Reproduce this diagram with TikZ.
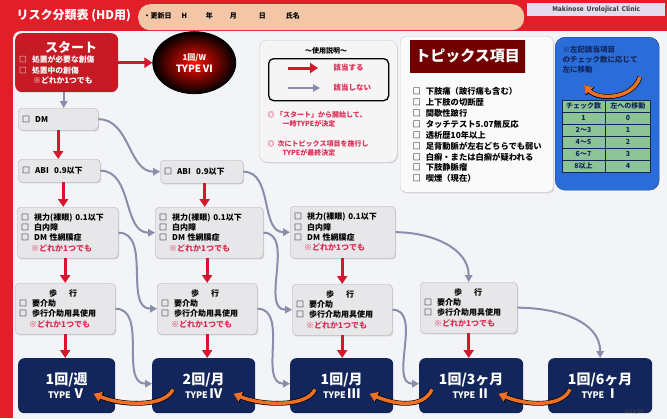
\documentclass[tikz,border=0pt]{standalone}
\usepackage{fontspec}
\setmainfont{Noto Sans CJK JP}
\usetikzlibrary{positioning,arrows.meta,shapes.geometric,shadows}
\definecolor{framered}{RGB}{226,30,40}
\definecolor{startred}{RGB}{198,26,36}
\definecolor{panel}{RGB}{243,244,248}
\definecolor{boxgray}{RGB}{231,231,234}
\definecolor{linegray}{RGB}{138,142,170}
\definecolor{arrowred}{RGB}{214,22,44}
\definecolor{notered}{RGB}{222,45,85}
\definecolor{typenavy}{RGB}{18,38,92}
\definecolor{peach}{RGB}{243,198,168}
\definecolor{lavender}{RGB}{228,220,238}
\definecolor{topicblue}{RGB}{42,108,216}
\definecolor{tablegreen}{RGB}{140,196,150}
\definecolor{swoosh}{RGB}{238,112,36}
\newcommand{\chkbox}{□\hspace{5pt}}
\newcommand{\anyone}{\hspace*{10pt}{\color{notered}※どれか1つでも}}
\newcommand{\typelabel}[2]{{\fontsize{14}{16}\selectfont #1}\\[1pt]{\fontsize{9}{12}\selectfont TYPE\,}{\fontsize{13}{12}\selectfont #2}}
\tikzset{
  flowbox/.style={draw=gray!55, fill=boxgray, rounded corners=4pt, anchor=north west,
    align=left, inner sep=4pt, font=\bfseries\fontsize{8}{10.3}\selectfont,
    drop shadow={shadow xshift=1pt,shadow yshift=-1.2pt,opacity=.3}},
  typebox/.style={fill=typenavy, rounded corners=6pt, anchor=north west, text=white,
    align=center, minimum height=55pt, font=\bfseries},
  redarrow/.style={arrowred, line width=3pt, -{Triangle[length=8pt,width=10pt]}},
  grayarrow/.style={linegray, line width=2pt, -{Triangle[length=7pt,width=7.5pt]}},
  swooshto/.style={swoosh, line width=3.5pt, -{Triangle[length=8pt,width=10pt]},
    preaction={draw=black, line width=4.8pt, -{Triangle[length=9pt,width=11.5pt]}}},
  tcell/.style={draw=typenavy, fill=tablegreen, minimum height=12pt, inner sep=0pt,
    text=typenavy, font=\bfseries\fontsize{7}{8}\selectfont},
  topicitem/.style={anchor=west, font=\bfseries\fontsize{8.3}{9}\selectfont}
}
\begin{document}
\begin{tikzpicture}[x=1pt,y=-1pt]
\useasboundingbox (0,0) rectangle (667,418);
% frame
\fill[framered] (0,0) rectangle (667,418);
\fill[panel, rounded corners=8pt] (13,31) rectangle (690,440);
\node[fill=peach, rounded corners=12pt, anchor=north west, minimum width=386pt, minimum height=26pt] (datebar) at (138,4) {};
\node[anchor=west, text=white, font=\bfseries\fontsize{12}{13}\selectfont] (title) at (13,16) {リスク分類表\ (HD用)};
\node[anchor=west, font=\bfseries\fontsize{7}{8}\selectfont] (datetext) at (140,16) {・更新日\hspace{10pt}H\hspace{19pt}年\hspace{17pt}月\hspace{22pt}日\hspace{20pt}氏名};
\node[fill=lavender, anchor=north west, minimum width=138pt, minimum height=13pt, inner sep=1pt, text=black!75, font=\bfseries\fontsize{6.5}{7}\selectfont] (clinic) at (527,3) {Makinose\ \ Urolojical\ \ Clinic};

% start
\node[fill=startred, rounded corners=7pt, anchor=north west, minimum width=103pt, minimum height=59pt,
  text=white, align=left, inner sep=4pt, text width=95pt, font=\bfseries\fontsize{7.8}{10.3}\selectfont] (start) at (15,33)
  {\hspace*{26pt}{\fontsize{13}{17}\selectfont スタート}\\ \chkbox 処置が必要な創傷\\ \chkbox 処置中の創傷\\ \hspace*{14pt}※どれか1つでも};
\node[ellipse, draw=black, line width=0.8pt, inner color=red!90!orange, outer color=black, minimum width=83pt, minimum height=62pt,
  text=white, align=center, font=\bfseries, right=34pt of start] (type6) {{\fontsize{8}{10}\selectfont 1回/W}\\{\fontsize{10}{12}\selectfont TYPE\,Ⅵ}};
\draw[redarrow] (start) -- (type6);

% usage
\node[draw=gray!40, fill=gray!8, rounded corners=8pt, anchor=north west, minimum width=138pt, minimum height=122pt,
  drop shadow={shadow xshift=1pt,shadow yshift=-1.2pt,opacity=.25}] (guide) at (259,40) {};
\node[font=\bfseries\fontsize{7}{8}\selectfont] (guidetitle) at (326,51) {～使用説明～};
\node[draw=black, line width=1.3pt, rounded corners=5pt, anchor=north west, minimum width=120pt, minimum height=42pt] (keybox) at (268,58) {};
\node[anchor=west, text=notered, font=\bfseries\fontsize{7.5}{8}\selectfont] (keyyes) at (330,68) {該当する};
\node[anchor=west, text=notered, font=\bfseries\fontsize{7.5}{8}\selectfont] (keyno) at (330,88) {該当しない};
\draw[redarrow] (keyyes.west) ++(-42,0) -- ++(30,0);
\draw[grayarrow] (keyno.west) ++(-42,0) -- ++(32,0);
\node[anchor=north west, align=left, text=notered, font=\bfseries\fontsize{7}{9}\selectfont] (note1) at (264,108) {◎\ 「スタート」から開始して、\\\hspace*{15pt}一時TYPEが決定};
\node[anchor=north west, align=left, text=notered, font=\bfseries\fontsize{7}{9}\selectfont] (note2) at (264,137) {◎\ \ 次にトピックス項目を施行し\\\hspace*{15pt}TYPEが最終決定};

% topics
\node[draw=gray!40, fill=white!96!gray, rounded corners=6pt, anchor=north west, minimum width=153pt, minimum height=156pt,
  drop shadow={shadow xshift=1pt,shadow yshift=-1.2pt,opacity=.25}] (topics) at (400,36) {};
\node[anchor=north west, minimum width=115pt, minimum height=32pt, left color=red!45!black, middle color=framered, right color=red!45!black,
  text=white, font=\bfseries\fontsize{15}{16}\selectfont] (banner) at (410,40) {トピックス項目};
\foreach \topic [count=\i] in {下肢痛（跛行痛も含む）,上下肢の切断歴,間歇性跛行,タッチテスト5.07無反応,透析歴10年以上,
  足背動脈が左右どちらでも弱い,白癬・または白癬が疑われる,下肢静脈瘤,喫煙（現在）}
  \node[topicitem] (tp\i) at (409,80.5+10.9*\i) {\chkbox\topic};

% move box
\node[fill=topicblue, draw=topicblue!60!black, rounded corners=10pt, anchor=north west, minimum width=104pt, minimum height=153pt] (movebox) at (555,37) {};
\node[anchor=north west, align=left, text=typenavy, font=\bfseries\fontsize{7.5}{10}\selectfont] (movetext) at (559,43) {※左記該当項目\\のチェック数に応じて\\左に移動};
\draw[swooshto] (640,77) .. controls (632,100) and (598,100) .. (584,85);
\foreach \a/\b [count=\i] in {チェック数/左への移動,1/0,2～3/1,4～5/2,6～7/3,8以上/4} {
  \node[tcell, minimum width=43pt] (ta\i) at (583.5,94+12*\i) {\a};
  \node[tcell, minimum width=45pt, right=0pt of ta\i] (tb\i) {\b};
}

% flow boxes
\node[flowbox, text width=72pt, minimum height=22pt] (dm1) at (18,108) {\chkbox DM};
\node[flowbox, text width=74pt, minimum height=23pt] (abi1) at (18,159) {\chkbox ABI\ \ 0.9以下};
\node[flowbox, text width=75pt, minimum height=23pt] (abi2) at (160,160) {\chkbox ABI\ \ 0.9以下};
\node[flowbox, text width=93pt, minimum height=51pt] (vis1) at (17,207) {\chkbox 視力(裸眼)\ 0.1以下\\\chkbox 白内障\\\chkbox DM\ 性網膜症\\\anyone};
\node[flowbox, text width=100pt, minimum height=51pt] (vis2) at (155,207) {\chkbox 視力(裸眼)\ 0.1以下\\\chkbox 白内障\\\chkbox DM\ 性網膜症\\\anyone};
\node[flowbox, text width=97pt, minimum height=52pt] (vis3) at (290,206) {\chkbox 視力(裸眼)\ 0.1以下\\\chkbox 白内障\\\chkbox DM\ 性網膜症\\\anyone};
\node[flowbox, text width=92pt, minimum height=51pt] (walk1) at (15,283) {\hspace*{30pt}歩\hspace{12pt}行\\\chkbox 要介助\\\chkbox 歩行介助用具使用\\\anyone};
\node[flowbox, text width=92pt, minimum height=51pt] (walk2) at (157,283) {\hspace*{30pt}歩\hspace{12pt}行\\\chkbox 要介助\\\chkbox 歩行介助用具使用\\\anyone};
\node[flowbox, text width=92pt, minimum height=51pt] (walk3) at (292,284) {\hspace*{30pt}歩\hspace{12pt}行\\\chkbox 要介助\\\chkbox 歩行介助用具使用\\\anyone};
\node[flowbox, text width=89pt, minimum height=51pt] (walk4) at (420,282) {\hspace*{30pt}歩\hspace{12pt}行\\\chkbox 要介助\\\chkbox 歩行介助用具使用\\\anyone};

% types
\node[typebox, minimum width=97pt] (type5) at (18,358) {\typelabel{1回/週}{Ⅴ}};
\node[typebox, minimum width=103pt] (type4) at (152,358) {\typelabel{2回/月}{Ⅳ}};
\node[typebox, minimum width=103pt] (type3) at (290,358) {\typelabel{1回/月}{Ⅲ}};
\node[typebox, minimum width=104pt] (type2) at (419,358) {\typelabel{1回/3ヶ月}{Ⅱ}};
\node[typebox, minimum width=104pt] (type1) at (548,358) {\typelabel{1回/6ヶ月}{Ⅰ}};
\node[text=black!70, font=\fontsize{5}{6}\selectfont] (stamp) at (634,412) {2014/03};

% yes
\draw[grayarrow] ([xshift=-3pt]start.south) -- ([xshift=-3pt]start.south |- dm1.north);
\draw[redarrow] (dm1.south) -- (dm1.south |- abi1.north);
\draw[redarrow] ([xshift=4pt]abi1.south) -- ([xshift=4pt]abi1.south |- vis1.north);
\draw[redarrow] (walk1.north |- vis1.south) -- (walk1.north);
\draw[redarrow] (walk1.south) -- (walk1.south |- type5.north);
\draw[redarrow] ([xshift=3pt]abi2.south) -- ([xshift=3pt]abi2.south |- vis2.north);
\draw[redarrow] (walk2.north |- vis2.south) -- (walk2.north);
\draw[redarrow] (walk2.south) -- (walk2.south |- type4.north);
\draw[redarrow] (walk3.north |- vis3.south) -- (walk3.north);
\draw[redarrow] (walk3.south) -- (walk3.south |- type3.north);
\draw[redarrow] (walk4.south) -- (walk4.south |- type2.north);
% no
\draw[grayarrow] (dm1.east) to[out=0,in=180] (abi2.west);
\draw[grayarrow] (abi1.east) to[out=0,in=180] (vis2.west);
\draw[grayarrow] (abi2.east) to[out=0,in=180] (vis3.west);
\draw[grayarrow] (vis1.east) to[out=0,in=180] (walk2.west);
\draw[grayarrow] (vis2.east) to[out=0,in=180] (walk3.west);
\draw[grayarrow] (vis3.east) to[out=0,in=90] (walk4.north);
\draw[grayarrow] (walk1.east) to[out=0,in=180] ([yshift=2pt]type4.west);
\draw[grayarrow] (walk2.east) to[out=0,in=180] ([yshift=2pt]type3.west);
\draw[grayarrow] (walk3.east) to[out=0,in=180] ([yshift=2pt]type2.west);
\draw[grayarrow] (walk4.east) to[out=0,in=90] (type1.north);
% move left
\draw[swooshto] ([xshift=21pt,yshift=24pt]type4.south west) .. controls +(-8,18) and +(28,12) .. ([xshift=-22pt,yshift=-8pt]type5.east);
\draw[swooshto] ([xshift=25pt,yshift=24pt]type3.south west) .. controls +(-8,18) and +(28,12) .. ([xshift=-22pt,yshift=-8pt]type4.east);
\draw[swooshto] ([xshift=13pt,yshift=24pt]type2.south west) .. controls +(-8,18) and +(28,12) .. ([xshift=-24pt,yshift=-8pt]type3.east);
\draw[swooshto] ([xshift=22pt,yshift=24pt]type1.south west) .. controls +(-8,18) and +(28,12) .. ([xshift=-25pt,yshift=-8pt]type2.east);
\end{tikzpicture}
\end{document}
